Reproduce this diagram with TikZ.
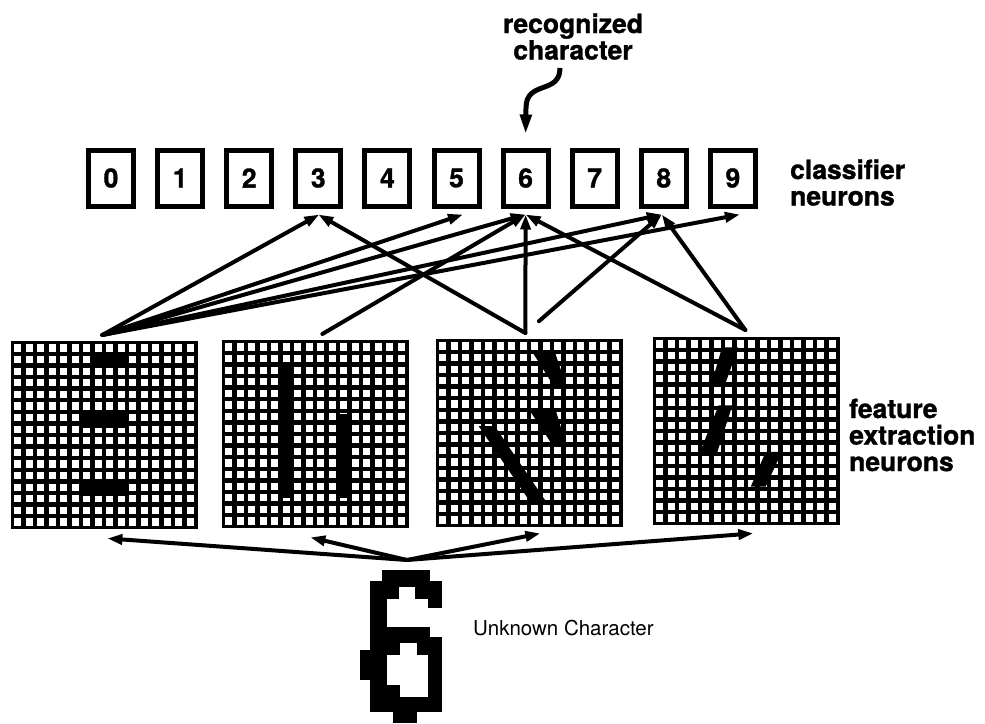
\documentclass[tikz,border=0pt]{standalone}
\usepackage{fontspec}
\setmainfont{TeX Gyre Heros}[BoldFeatures={FakeBold=1.2}]
\usepackage{tikz}
\usetikzlibrary{arrows.meta}
\newcommand{\NNbig}{\fontsize{26.5pt}{26.5pt}\selectfont\bfseries}
\newcommand{\NNsmall}{\fontsize{20.5pt}{22pt}\selectfont}
\tikzstyle{neuron}=[draw, line width=5pt, minimum width=45pt, minimum height=56pt, inner sep=0, font=\NNbig]
\tikzstyle{fmap}=[fill, anchor=north west, minimum width=186.3pt, minimum height=188pt, inner sep=0]
\tikzstyle{link}=[line width=4pt, line cap=round, -{Triangle[length=15pt, width=10pt]}]
\tikzstyle{nnlabel}=[inner sep=0, font=\NNbig, align=left]
\newcommand{\NNmap}[4]{\node[fmap] (#1) at (#2,#3) {};
\begin{scope}[shift={(#2,#3)}, x=11.5pt, y=-11.6pt]
\foreach \i in {0,...,15} \foreach \j in {0,...,15} \fill[white] (\i+.29,\j+.29) rectangle ++(.62,.62);
#4
\end{scope}}

\begin{document}
\begin{tikzpicture}[x=1pt, y=-1pt]
\fill[white] (0,0) rectangle (985,723);
\useasboundingbox (0,0) rectangle (985,723);
\foreach \d in {0,...,9} \node[neuron] (n\d) at ({111+69.1*\d},178) {\d};
\node[nnlabel, align=center] (rec) at (573,36.5) {recognized\\character};
\node[nnlabel, anchor=west] (cls) at (790,182.5) {classifier\\neurons};
\node[nnlabel, anchor=west] (fen) at (849,435) {feature\\extraction\\neurons};
\node[inner sep=0, anchor=west, font=\NNsmall] (unkl) at (473,628) {Unknown Character};
\NNmap{g1}{11}{341}{\fill (7,1.2) rectangle (10.2,2.2); \fill (6,6.1) rectangle (10.2,7.5); \fill (6,12.1) rectangle (10.2,13.4);}
\NNmap{g2}{222}{340}{\fill (4.95,2.2) rectangle (6.25,13.6); \fill (9.95,6.4) rectangle (11.25,13.6);}
\NNmap{g3}{436}{339}{\fill (8.3,1) -- (10.3,1) -- (11.3,4) -- (10.2,4) -- cycle;
\fill (8.1,6.1) -- (10.4,6.1) -- (11.3,9.1) -- (10.1,9.1) -- cycle;
\fill (3.7,7.5) -- (5.1,7.5) -- (9.7,14.2) -- (8.3,14.2) -- cycle;}
\NNmap{g4}{653}{337}{\fill (6,.9) -- (7.4,.9) -- (6.3,4) -- (5.1,4) -- cycle;
\fill (5.7,5.9) -- (6.9,5.9) -- (5.6,9.9) -- (4.1,9.9) -- cycle;
\fill (9.8,9.9) -- (11.2,9.9) -- (9.8,12.9) -- (8.5,12.9) -- cycle;}
\foreach \a/\b/\c/\d in {382/570/430/587, 370/581/399/599, 415/581/428/599, 428/581/442/608, 370/581/387/712, 370/627/430/643, 428/637/442/712, 387/643/400/655, 417/643/428/655, 360/650/370/680, 387/685/400/697, 370/697/442/712, 393/712/417/723}
  \fill (\a,\b) rectangle (\c,\d);
\coordinate (unk) at (407,560);
\coordinate (t1) at ([xshift=-2pt, yshift=6pt]g1.north);
\coordinate (t2) at ([xshift=7pt, yshift=6pt]g2.north);
\coordinate (t3) at ([xshift=-4pt, yshift=6pt]g3.north);
\coordinate (t4) at ([xshift=-1pt, yshift=7pt]g4.north);
\foreach \k/\dx in {3/1, 5/6.5, 6/0, 8/-2, 9/7} \draw[link] (t1) -- ([xshift=\dx pt, yshift=-6pt]n\k.south);
\draw[link] (t2) -- ([yshift=-6pt]n6.south);
\draw[link] (t3) -- ([yshift=-6pt]n3.south);
\draw[link] (t3) -- ([yshift=-6pt]n6.south);
\draw[link, shorten <=18pt] (t3) -- ([xshift=-2pt, yshift=-6pt]n8.south);
\draw[link] (t4) -- ([yshift=-6pt]n6.south);
\draw[link] (t4) -- ([xshift=-2pt, yshift=-6pt]n8.south);
\foreach \g/\dx/\dy in {g1/3/-9, g2/-5/-9, g3/11/-6, g4/7/-8} \draw[link] (unk) -- ([xshift=\dx pt, yshift=\dy pt]\g.south);
\draw[line width=5pt, -{Triangle[length=20pt, width=11pt]}] ([xshift=-13pt, yshift=-8pt]rec.south) .. controls +(0,27) and +(0,-28) .. ++(-34,40) -- ([yshift=13pt]n6.north);
\end{tikzpicture}
\end{document}
